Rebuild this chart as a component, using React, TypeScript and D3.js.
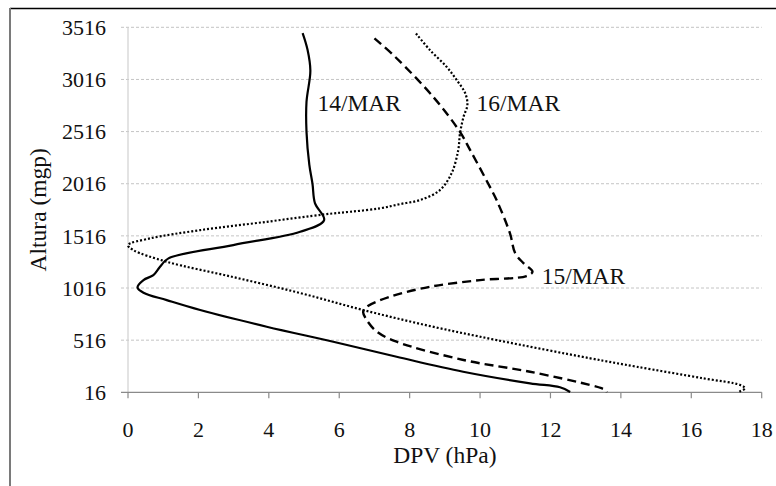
import React from "react";
import * as d3 from "d3";

// DPV (hPa) versus altitude (mgp) profiles for three days
const dpv14 = [4.96, 5.1, 5.18, 5.07, 5.07, 5.15, 5.24, 5.31, 5.57, 4.89, 2.99, 1.15, 0.91, 0.72, 0.44, 0.27, 0.44, 1.1, 2.05, 3.94, 5.83, 7.63, 9.52, 11.42, 12.27, 12.56];
const alt14 = [3460, 3300, 3100, 2800, 2516, 2200, 2016, 1830, 1667, 1555, 1428, 1300, 1220, 1140, 1092, 1022, 970, 900, 805, 645, 501, 357, 213, 102, 64, 19];

const dpv15 = [7.0, 7.59, 8.67, 9.43, 9.72, 10.28, 10.47, 10.85, 11.0, 11.24, 11.49, 11.32, 10.0, 8.58, 7.44, 6.78, 6.68, 6.78, 7.07, 7.63, 9.53, 11.42, 13.13, 13.45, 13.58, 13.6];
const alt15 = [3410, 3232, 2849, 2513, 2338, 1986, 1859, 1540, 1348, 1252, 1172, 1131, 1092, 1028, 932, 836, 788, 709, 597, 501, 326, 213, 86, 55, 33, 16];

const dpv16 = [8.18, 8.58, 9.05, 9.34, 9.58, 9.64, 9.53, 9.43, 9.38, 9.19, 8.86, 8.3, 7.73, 7.16, 6.31, 5.57, 3.94, 2.05, 0.63, 0.0, 0.15, 1.1, 2.99, 4.89, 6.68, 8.58, 10.47, 13.13, 14.45, 16.34, 17.39, 17.53, 17.39, 17.34];
const alt16 = [3457, 3297, 3137, 3009, 2882, 2770, 2657, 2498, 2338, 2115, 1955, 1860, 1821, 1780, 1747, 1722, 1651, 1571, 1492, 1428, 1380, 1268, 1121, 968, 805, 651, 517, 342, 261, 150, 86, 54, 26, 16];

const seriesNames = ["14/MAR", "15/MAR", "16/MAR"];
const labelDpv = [5.38, 11.75, 9.9];
const labelAlt = [2715, 1054, 2712];

const xTicks = [0, 2, 4, 6, 8, 10, 12, 14, 16, 18];
const yTicks = [16, 516, 1016, 1516, 2016, 2516, 3016, 3516];

const W = 776;
const H = 486;
const FONT = "'Liberation Serif', 'Times New Roman', serif";

export default function App() {
  const x = d3.scaleLinear().domain([0, 18]).range([128, 761.7]);
  const y = d3.scaleLinear().domain([16, 3516]).range([392.3, 27.3]);

  const line = d3
    .line<[number, number]>()
    .x((d) => x(d[0]))
    .y((d) => y(d[1]))
    .curve(d3.curveCatmullRom.alpha(0.5));

  const zip = (a: number[], b: number[]) => a.map((v, i) => [v, b[i]] as [number, number]);
  const series = [
    { pts: zip(dpv14, alt14), dash: null as string | null, width: 2.2 },
    { pts: zip(dpv15, alt15), dash: "9,5", width: 2.4 },
    { pts: zip(dpv16, alt16), dash: "2,2", width: 2.2 },
  ];

  const [x0, x1] = x.range();
  const yBottom = y(16);

  return (
    <svg
      width={W}
      height={H}
      style={{ position: "absolute", left: 0, top: 0, background: "#fff", fontFamily: FONT }}
    >
      {/* frame */}
      <line x1={10} y1={8.5} x2={W} y2={8.5} stroke="#000" strokeWidth={1.5} />
      <line x1={10} y1={8} x2={10} y2={H} stroke="#7a7a7a" strokeWidth={2} />

      {/* horizontal gridlines */}
      {yTicks.slice(1).map((t) => (
        <line
          key={"g" + t}
          x1={121}
          x2={x1}
          y1={y(t)}
          y2={y(t)}
          stroke="#c4c4c4"
          strokeWidth={1}
          strokeDasharray="3,2"
        />
      ))}

      {/* axes */}
      <line x1={x0} x2={x0} y1={y(3516)} y2={yBottom} stroke="#d0d0d0" strokeWidth={1.2} />
      <line x1={121} x2={x1} y1={yBottom} y2={yBottom} stroke="#8a8a8a" strokeWidth={1.2} />
      {xTicks.map((t) => (
        <line key={"xt" + t} x1={x(t)} x2={x(t)} y1={yBottom} y2={yBottom + 6} stroke="#8a8a8a" strokeWidth={1.2} />
      ))}

      {/* tick labels */}
      {yTicks.map((t) => (
        <text key={"yl" + t} x={106} y={y(t)} dy="0.35em" textAnchor="end" fontSize={22} fill="#111">
          {t}
        </text>
      ))}
      {xTicks.map((t) => (
        <text key={"xl" + t} x={x(t)} y={436.5} textAnchor="middle" fontSize={22} fill="#111">
          {t}
        </text>
      ))}

      {/* axis titles */}
      <text x={(x0 + x1) / 2} y={463} textAnchor="middle" fontSize={23.5} fill="#111">
        DPV (hPa)
      </text>
      <text
        transform={`translate(46, ${(y(16) + y(3516)) / 2}) rotate(-90)`}
        textAnchor="middle"
        fontSize={23.5}
        fill="#111"
      >
        Altura (mgp)
      </text>

      {/* profiles */}
      {series.map((s, i) => (
        <path
          key={"s" + i}
          d={line(s.pts) || ""}
          fill="none"
          stroke="#000"
          strokeWidth={s.width}
          strokeDasharray={s.dash || undefined}
        />
      ))}

      {/* series labels */}
      {seriesNames.map((n, i) => (
        <text key={"lab" + i} x={x(labelDpv[i])} y={y(labelAlt[i])} fontSize={23.5} fill="#111">
          {n}
        </text>
      ))}
    </svg>
  );
}
